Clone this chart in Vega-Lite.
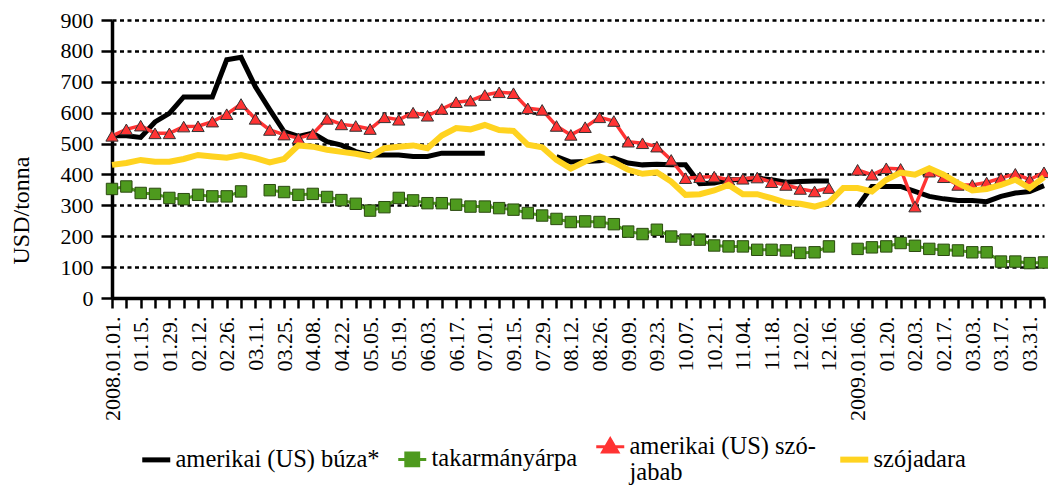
{
  "$schema": "https://vega.github.io/schema/vega-lite/v6.json",
  "width": 932,
  "height": 278,
  "autosize": {"type": "none"},
  "padding": {"left": 112, "top": 20, "right": 4, "bottom": 197},
  "config": {
    "font": "Liberation Serif, serif",
    "view": {"stroke": null},
    "axis": {"labelColor": "#000", "titleColor": "#000", "domainColor": "#000", "tickColor": "#000", "labelFont": "Liberation Serif, serif", "titleFont": "Liberation Serif, serif"},
    "legend": {"labelFont": "Liberation Serif, serif"}
  },
  "data": {
    "values": [
      {"t": "2008.01.01.", "a": 525, "b": 353, "c": 525, "d": 431},
      {"t": "_01.08", "a": 525, "b": 361, "c": 546, "d": 437},
      {"t": "01.15.", "a": 520, "b": 340, "c": 558, "d": 447},
      {"t": "_01.22", "a": 570, "b": 337, "c": 533, "d": 441},
      {"t": "01.29.", "a": 598, "b": 324, "c": 533, "d": 441},
      {"t": "_02.05", "a": 651, "b": 320, "c": 555, "d": 450},
      {"t": "02.12.", "a": 651, "b": 334, "c": 556, "d": 463},
      {"t": "_02.19", "a": 651, "b": 329, "c": 571, "d": 458},
      {"t": "02.26.", "a": 771, "b": 329, "c": 595, "d": 454},
      {"t": "_03.04", "a": 779, "b": 345, "c": 628, "d": 463},
      {"t": "03.11.", "a": 684, "b": null, "c": 580, "d": 453},
      {"t": "_03.18", "a": 610, "b": 349, "c": 544, "d": 439},
      {"t": "03.25.", "a": 539, "b": 343, "c": 529, "d": 450},
      {"t": "_04.01", "a": 523, "b": 334, "c": 517, "d": 494},
      {"t": "04.08.", "a": 534, "b": 337, "c": 531, "d": 490},
      {"t": "_04.15", "a": 506, "b": 327, "c": 580, "d": 480},
      {"t": "04.22.", "a": 495, "b": 317, "c": 562, "d": 473},
      {"t": "_04.29", "a": 474, "b": 305, "c": 557, "d": 467},
      {"t": "05.05.", "a": 463, "b": 283, "c": 547, "d": 458},
      {"t": "_05.12", "a": 463, "b": 294, "c": 585, "d": 485},
      {"t": "05.19.", "a": 463, "b": 324, "c": 577, "d": 490},
      {"t": "_05.27", "a": 458, "b": 316, "c": 600, "d": 494},
      {"t": "06.03.", "a": 458, "b": 307, "c": 590, "d": 485},
      {"t": "_06.10", "a": 469, "b": 307, "c": 612, "d": 526},
      {"t": "06.17.", "a": 469, "b": 302, "c": 634, "d": 550},
      {"t": "_06.24", "a": 469, "b": 296, "c": 639, "d": 546},
      {"t": "07.01.", "a": 469, "b": 296, "c": 657, "d": 560},
      {"t": "_07.08", "a": null, "b": 291, "c": 666, "d": 544},
      {"t": "09.15.", "a": null, "b": 286, "c": 663, "d": 541},
      {"t": "_07.22", "a": null, "b": 275, "c": 614, "d": 496},
      {"t": "07.29.", "a": null, "b": 267, "c": 609, "d": 488},
      {"t": "_08.05", "a": 458, "b": 256, "c": 557, "d": 447},
      {"t": "08.12.", "a": 440, "b": 246, "c": 528, "d": 419},
      {"t": "_08.19", "a": 442, "b": 248, "c": 553, "d": 442},
      {"t": "08.26.", "a": 444, "b": 246, "c": 585, "d": 458},
      {"t": "_09.02", "a": 453, "b": 239, "c": 573, "d": 440},
      {"t": "09.09.", "a": 437, "b": 215, "c": 506, "d": 415},
      {"t": "_09.16", "a": 431, "b": 207, "c": 501, "d": 402},
      {"t": "09.23.", "a": 433, "b": 221, "c": 490, "d": 407},
      {"t": "_09.30", "a": 431, "b": 199, "c": 447, "d": 377},
      {"t": "10.07.", "a": 431, "b": 189, "c": 388, "d": 334},
      {"t": "_10.14", "a": 370, "b": 189, "c": 391, "d": 336},
      {"t": "10.21.", "a": 372, "b": 170, "c": 393, "d": 348},
      {"t": "_10.28", "a": 383, "b": 167, "c": 383, "d": 366},
      {"t": "11.04.", "a": 383, "b": 167, "c": 386, "d": 336},
      {"t": "_11.11", "a": 388, "b": 156, "c": 390, "d": 336},
      {"t": "11.18.", "a": 383, "b": 156, "c": 375, "d": 323},
      {"t": "_11.25", "a": 375, "b": 154, "c": 366, "d": 309},
      {"t": "12.02.", "a": 377, "b": 146, "c": 353, "d": 305},
      {"t": "_12.09", "a": 379, "b": 148, "c": 345, "d": 296},
      {"t": "12.16.", "a": 379, "b": 167, "c": 356, "d": 309},
      {"t": "_12.23", "a": null, "b": null, "c": null, "d": 356},
      {"t": "2009.01.06.", "a": 296, "b": 159, "c": 415, "d": 356},
      {"t": "_2009.01.13", "a": 361, "b": 164, "c": 399, "d": 345},
      {"t": "01.20.", "a": 361, "b": 167, "c": 420, "d": 383},
      {"t": "_01.27", "a": 361, "b": 178, "c": 418, "d": 406},
      {"t": "02.03.", "a": 345, "b": 169, "c": 296, "d": 399},
      {"t": "_02.10", "a": 329, "b": 159, "c": 409, "d": 420},
      {"t": "02.17.", "a": 321, "b": 156, "c": 391, "d": 399},
      {"t": "_02.24", "a": 316, "b": 154, "c": 366, "d": 372},
      {"t": "03.03.", "a": 316, "b": 148, "c": 366, "d": 348},
      {"t": "_03.10", "a": 312, "b": 148, "c": 374, "d": 353},
      {"t": "03.17.", "a": 329, "b": 118, "c": 388, "d": 366},
      {"t": "_03.24", "a": 340, "b": 118, "c": 402, "d": 383},
      {"t": "03.31.", "a": 345, "b": 113, "c": 383, "d": 356},
      {"t": "_04.07", "a": 364, "b": 115, "c": 407, "d": 391}
    ]
  },
  "transform": [{"fold": ["a", "b", "c", "d"], "as": ["s", "v"]}],
  "encoding": {
    "x": {
      "field": "t", "type": "ordinal", "sort": null,
      "scale": {"type": "point", "padding": 0},
      "axis": {
        "title": null, "labelAngle": 270, "labelOverlap": false, "labelBound": false,
        "labelExpr": "indexof(datum.value, '_') == 0 ? '' : datum.value",
        "labelFontSize": 22, "labelPadding": 8, "tickSize": 10, "tickWidth": 2.5,
        "domainWidth": 3.5, "grid": false
      }
    },
    "y": {
      "field": "v", "type": "quantitative",
      "scale": {"domain": [0, 900], "nice": false},
      "axis": {
        "title": "USD/tonna", "values": [0, 100, 200, 300, 400, 500, 600, 700, 800, 900],
        "grid": true, "gridDash": [4, 3.5], "gridColor": "#000", "gridWidth": 2.5,
        "tickSize": 11, "tickWidth": 2.5, "domainWidth": 3.5,
        "labelFontSize": 22, "labelPadding": 8,
        "titleFontSize": 24, "titleFontWeight": "normal",
        "titleX": -91, "titleY": 190, "titleAngle": 270, "titleAlign": "center", "titleBaseline": "middle"
      }
    },
    "color": {
      "field": "s", "type": "nominal",
      "scale": {"domain": ["a", "b", "c", "d"], "range": ["#000000", "#4E9A1E", "#FF3333", "#FFD320"]},
      "legend": {
        "orient": "none", "legendX": 32, "legendY": 414, "direction": "horizontal", "columns": 4,
        "title": null, "padding": 0, "columnPadding": 12,
        "symbolSize": 784, "labelFont": "Liberation Serif, serif", "labelFontSize": 24.5, "labelColor": "#000",
        "labelOffset": 7, "labelLimit": 400, "labelBaseline": "top",
        "labelExpr": "datum.value == 'a' ? 'amerikai (US) búza*' : datum.value == 'b' ? 'takarmányárpa' : datum.value == 'c' ? ['amerikai (US) szó-', 'jabab'] : 'szójadara'",
        "encode": {
          "symbols": {
            "update": {
              "shape": {"signal": "datum.value == 'b' ? 'M-1,0H1M-0.46,-0.46H0.46V0.46H-0.46Z' : datum.value == 'c' ? 'M-1,0H1M0,-0.55L0.54,0.38H-0.54Z' : 'M-1,0H1'"},
              "size": {"value": 784},
              "stroke": {"signal": "datum.value == 'a' ? '#000000' : datum.value == 'b' ? '#4E9A1E' : datum.value == 'c' ? '#FF3333' : '#FFD320'"},
              "fill": {"signal": "datum.value == 'b' ? '#4E9A1E' : datum.value == 'c' ? '#FF3333' : 'transparent'"},
              "strokeWidth": {"signal": "datum.value == 'a' ? 5 : datum.value == 'd' ? 6 : 3"},
              "opacity": {"value": 1}
            }
          },
          "labels": {"update": {"dy": {"value": -12}}}
        }
      }
    }
  },
  "layer": [
    {"transform": [{"filter": "datum.s == 'a'"}], "mark": {"type": "line", "strokeWidth": 5, "invalid": "break-paths-show-domains"}},
    {"transform": [{"filter": "datum.s == 'b'"}], "mark": {"type": "line", "strokeWidth": 3, "invalid": "break-paths-show-domains"}},
    {"transform": [{"filter": "datum.s == 'b' && datum.v != null"}], "mark": {"type": "point", "shape": "square", "size": 130, "filled": true, "opacity": 1, "stroke": "#2B4A10", "strokeWidth": 1}},
    {"transform": [{"filter": "datum.s == 'c'"}], "mark": {"type": "line", "strokeWidth": 3.5, "invalid": "break-paths-show-domains"}},
    {"transform": [{"filter": "datum.s == 'c' && datum.v != null"}], "mark": {"type": "point", "shape": "triangle-up", "size": 150, "filled": true, "opacity": 1, "stroke": "#333333", "strokeWidth": 1}},
    {"transform": [{"filter": "datum.s == 'd'"}], "mark": {"type": "line", "strokeWidth": 6, "invalid": "break-paths-show-domains"}}
  ]
}
